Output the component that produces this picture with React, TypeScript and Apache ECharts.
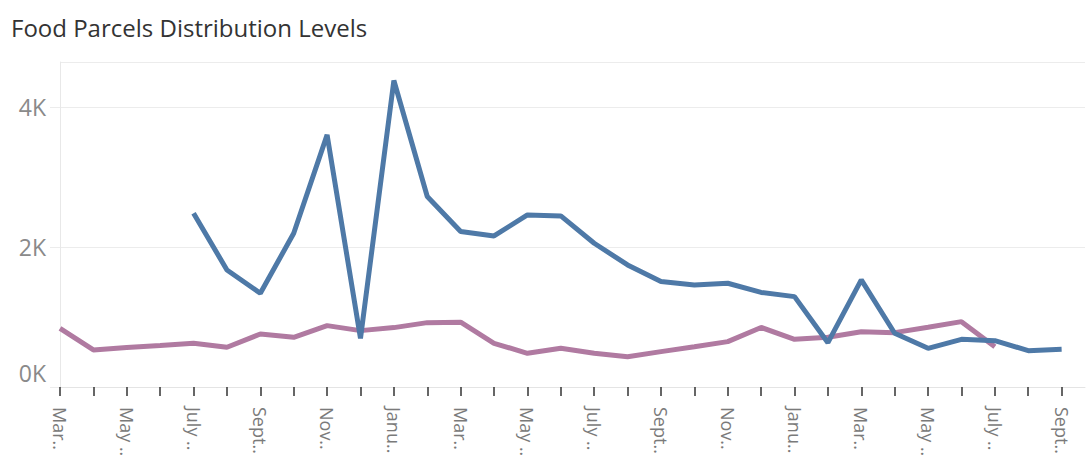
import React, { useEffect, useRef } from "react";
import * as echarts from "echarts";

// Month index 0 = first March, 30 = the September two and a half years later
const tickLabels = [
  "Mar..", "May ..", "July ..", "Sept..", "Nov..", "Janu..",
  "Mar..", "May ..", "July ..", "Sept..", "Nov..", "Janu..",
  "Mar..", "May ..", "July ..", "Sept..",
];

const blueValues: (number | null)[] = [
  null, null, null, null, 2481, 1671, 1338, 2195, 3600, 695,
  4376, 2719, 2219, 2157, 2457, 2443, 2052, 1743, 1505, 1457,
  1481, 1350, 1290, 633, 1529, 767, 552, 681, 662, 519, 538,
];

const pinkValues: (number | null)[] = [
  838, 529, 564, 593, 624, 567, 757, 710, 876, 805,
  848, 919, 925, 624, 481, 552, 481, 433, 505, 576,
  648, 850, 681, 710, 790, 776, 852, 933, 576, null, null,
];

const toPairs = (vals: (number | null)[]) =>
  vals.map((v, i) => [i, v]).filter((p) => p[1] !== null);

export default function App() {
  const ref = useRef<HTMLDivElement>(null);
  useEffect(() => {
    if (!ref.current) return;
    const chart = echarts.init(ref.current, null, { renderer: "svg" });
    const font = "Open Sans";
    const monthTicks = blueValues.map((_, i) => i);
    const labelTicks = monthTicks.filter((i) => i % 2 === 0);
    chart.setOption({
      animation: false,
      title: {
        text: "Food Parcels Distribution Levels",
        left: 6,
        top: 10,
        textStyle: { fontFamily: font, fontSize: 24, fontWeight: "normal", color: "#333333" },
      },
      grid: { left: 60, right: 4, top: 62, bottom: 75, containLabel: false, outerBoundsMode: "none" },
      xAxis: {
        type: "value",
        min: 0,
        max: 30.7,
        interval: 1,
        axisLine: { show: true, lineStyle: { color: "#e4e4e4", width: 1 } },
        axisTick: {
          show: true,
          customValues: monthTicks,
          length: 9,
          lineStyle: { color: "#333333", width: 1.5 },
        },
        splitLine: { show: false },
        axisLabel: {
          customValues: labelTicks,
          rotate: -90,
          margin: 20,
          fontFamily: font,
          fontSize: 18,
          color: "#7a7a7a",
          formatter: (v: number) => {
            const k = Math.round(v);
            return k % 2 === 0 ? tickLabels[k / 2] ?? "" : "";
          },
        },
      },
      yAxis: {
        type: "value",
        min: 0,
        max: 4640,
        interval: 2000,
        axisLine: { show: true, lineStyle: { color: "#e8e8e8", width: 1 } },
        axisTick: { show: true, length: 10, lineStyle: { color: "#ececec", width: 1 } },
        splitLine: { show: true, lineStyle: { color: "#ececec", width: 1 } },
        axisLabel: {
          margin: 14,
          showMaxLabel: false,
          fontFamily: font,
          fontSize: 23,
          color: "#8a8a8a",
          formatter: (v: number) => (v === 0 ? "{z|0K}" : v % 2000 === 0 ? v / 1000 + "K" : ""),
          rich: {
            z: { fontFamily: font, fontSize: 23, color: "#8a8a8a", padding: [0, 0, 28, 0] },
          },
        },
      },
      series: [
        {
          type: "line",
          data: toPairs(pinkValues),
          showSymbol: false,
          lineStyle: { color: "#b07aa1", width: 5 },
          itemStyle: { color: "#b07aa1" },
          z: 2,
        },
        {
          type: "line",
          data: toPairs(blueValues),
          showSymbol: false,
          lineStyle: { color: "#4e79a7", width: 5 },
          itemStyle: { color: "#4e79a7" },
          z: 3,
        },
      ],
    });
    return () => chart.dispose();
  }, []);
  return (
    <div
      ref={ref}
      style={{ position: "fixed", left: 0, top: 0, width: 1089, height: 462, background: "#ffffff" }}
    />
  );
}
